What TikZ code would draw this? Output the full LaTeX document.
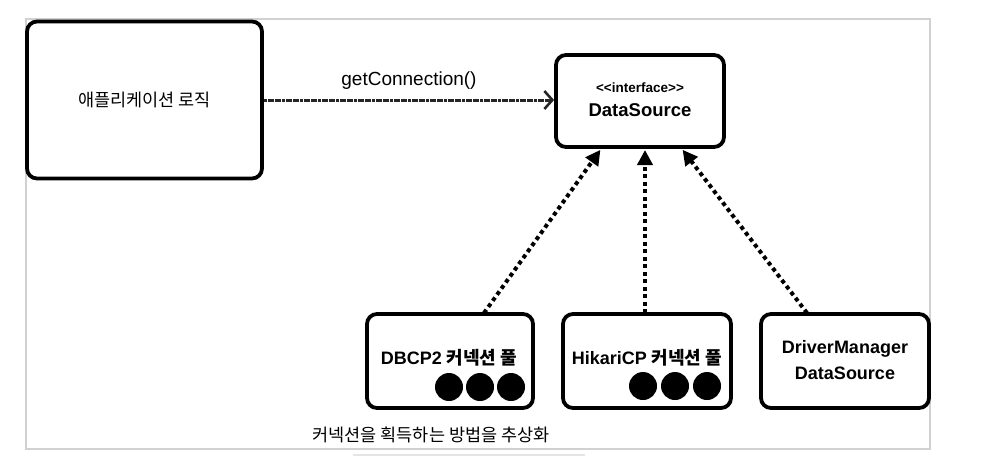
\documentclass[tikz,border=0pt]{standalone}
\usepackage{fontspec}
\setmainfont{Liberation Sans}
\newfontfamily\kr{Noto Sans CJK KR}
\usetikzlibrary{arrows.meta}
\tikzset{
  box/.style={draw=black, line width=3.8pt, rounded corners=10pt, fill=white, inner sep=0pt},
  dep/.style={line width=4pt, dash pattern=on 4pt off 3.5pt, -{Triangle[length=15pt,width=15pt]}, shorten >=1pt},
  call/.style={line width=3pt, draw=black!85, dash pattern=on 3pt off 0.6pt, -{Straight Barb[length=8pt,width=18pt,line width=2.6pt]}},
  dot/.style={fill=black, draw=none},
  frame/.style={draw=black!18, line width=1.5pt},
  lbl/.style={font=\fontsize{18}{26}\selectfont\bfseries, align=center},
  krtext/.style={font=\fontsize{17.5}{21}\selectfont\kr}
}
\begin{document}
\begin{tikzpicture}[x=1pt,y=-1pt]
\useasboundingbox (0,0) rectangle (986,456);
\draw[frame] (26,19) rectangle (930,449);
\draw[draw=black!10, line width=1.5pt] (353,455) -- (585,455);

\node[box, minimum width=235pt, minimum height=157pt] (app) at (144.5,100) {};
\node[krtext] (appl) at (144.5,100) {애플리케이션 로직};

\node[box, minimum width=168pt, minimum height=92pt] (ds) at (640,101) {};
\node[font=\fontsize{13.5}{16}\selectfont\bfseries] (ifc) at (640,88) {<{}<interface>{}>};
\node[font=\fontsize{18.5}{22}\selectfont\bfseries] (dsl) at (640,110) {DataSource};

\node[box, minimum width=166pt, minimum height=94pt] (dbcp) at (450,361) {};
\node[box, minimum width=168pt, minimum height=94pt] (hik) at (647,361) {};
\node[box, minimum width=168pt, minimum height=94pt] (drv) at (845,361) {};

\node[lbl] (dbcpl) at (449,358) {DBCP2 {\kr 커넥션 풀}};
\node[lbl] (hikl) at (647,358) {HikariCP {\kr 커넥션 풀}};
\node[lbl] (drvl) at (845,360) {DriverManager\\DataSource};

\fill[dot] (449,387) ellipse (14 and 14);
\fill[dot] (480,387) ellipse (14 and 14);
\fill[dot] (511,387) ellipse (14 and 14);
\fill[dot] (643,386) ellipse (14 and 14);
\fill[dot] (675,386) ellipse (14 and 14);
\fill[dot] (707,386) ellipse (14 and 14);

\coordinate (dsA) at (601,149);
\coordinate (dsB) at (645,149);
\coordinate (dsC) at (682,149);
\coordinate (s1) at (484,313);
\coordinate (s2) at (645,313);
\coordinate (s3) at (807,313);
\draw[dep] (s1) -- (dsA);
\draw[dep] (s2) -- (dsB);
\draw[dep] (s3) -- (dsC);

\draw[call] (app.east |- 0,100) -- (ds.west |- 0,100) node[midway, above=6pt, font=\fontsize{19}{22}\selectfont] {getConnection()};

\node[krtext] (note) at (431,435) {커넥션을 획득하는 방법을 추상화};
\end{tikzpicture}
\end{document}
